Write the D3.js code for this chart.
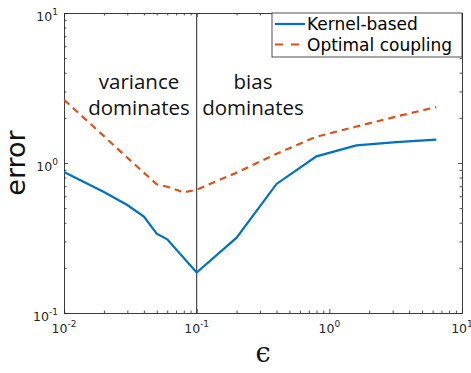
<!DOCTYPE html>
<html>
<head>
<meta charset="utf-8">
<script src="https://cdn.jsdelivr.net/npm/d3@7"></script>
<style>
  body { margin: 0; background: #fff; }
  svg { display: block; }
</style>
</head>
<body>
<svg id="chart" width="471" height="373"></svg>
<script>
// values
const epsilon = [0.01, 0.02, 0.03, 0.04, 0.05, 0.06, 0.1, 0.2, 0.4, 0.8, 1.6, 3.2, 6.4];
const kernelBased = [0.87, 0.64, 0.525, 0.44, 0.338, 0.31, 0.186, 0.318, 0.725, 1.107, 1.31, 1.376, 1.43];
const couplingEps = [0.01, 0.02, 0.03, 0.04, 0.05, 0.06, 0.08, 0.1, 0.2, 0.4, 0.8, 1.6, 3.2, 6.4];
const optimalCoupling = [2.64, 1.51, 1.085, 0.862, 0.722, 0.695, 0.637, 0.664, 0.862, 1.153, 1.497, 1.75, 2.04, 2.36];
const decadesX = [-2, -1, 0, 1];
const decadesY = [-1, 0, 1];
const legendLabels = ['Kernel-based', 'Optimal coupling'];

const margin = { left: 64, top: 13, right: 9, bottom: 60 };
const width = 471, height = 373;
const innerW = width - margin.left - margin.right;
const innerH = height - margin.top - margin.bottom;

const svg = d3.select('#chart');
const g = svg.append('g').attr('transform', `translate(${margin.left},${margin.top})`);

const x = d3.scaleLog().domain([1e-2, 1e1]).range([0, innerW]);
const y = d3.scaleLog().domain([1e-1, 1e1]).range([innerH, 0]);

const axisColor = '#262626';
const minorX = [];
for (let p = -2; p < 1; p++) for (let m = 1; m < 10; m++) minorX.push(m * Math.pow(10, p));
minorX.push(10);
const minorY = [];
for (let p = -1; p < 1; p++) for (let m = 1; m < 10; m++) minorY.push(m * Math.pow(10, p));
minorY.push(10);
const isMajor = v => Math.abs(Math.log10(v) - Math.round(Math.log10(v))) < 1e-9;

const drawAxis = (axis, transform) => {
  const a = g.append('g').attr('transform', transform).call(axis);
  a.select('.domain').attr('stroke', axisColor).attr('stroke-width', 0.9);
  a.selectAll('.tick line').attr('stroke', axisColor).attr('stroke-width', 0.8);
  a.selectAll('.tick text').remove();
  return a;
};

const tickLen = 4, minorLen = 2.5;
const axBottom = drawAxis(d3.axisBottom(x).tickValues(minorX).tickSizeInner(-tickLen).tickSizeOuter(0).tickFormat(''), `translate(0,${innerH})`);
const axTop = drawAxis(d3.axisTop(x).tickValues(minorX).tickSizeInner(-tickLen).tickSizeOuter(0).tickFormat(''), 'translate(0,0)');
const axLeft = drawAxis(d3.axisLeft(y).tickValues(minorY).tickSizeInner(-tickLen).tickSizeOuter(0).tickFormat(''), 'translate(0,0)');
const axRight = drawAxis(d3.axisRight(y).tickValues(minorY).tickSizeInner(-tickLen).tickSizeOuter(0).tickFormat(''), `translate(${innerW},0)`);

axBottom.selectAll('.tick line').attr('y2', d => isMajor(d) ? -tickLen : -minorLen);
axTop.selectAll('.tick line').attr('y2', d => isMajor(d) ? tickLen : minorLen);
axLeft.selectAll('.tick line').attr('x2', d => isMajor(d) ? tickLen : minorLen);
axRight.selectAll('.tick line').attr('x2', d => isMajor(d) ? -tickLen : -minorLen);

// tick labels with superscript exponents
const tickFont = '"DejaVu Sans", sans-serif';
const xLabels = g.append('g').selectAll('text')
  .data(decadesX)
  .enter().append('text')
  .attr('x', d => x(Math.pow(10, d)))
  .attr('y', innerH + 20)
  .attr('text-anchor', 'middle')
  .style('font-family', tickFont)
  .style('font-size', '12.5px')
  .style('fill', axisColor);
xLabels.append('tspan').text('10');
xLabels.append('tspan').attr('dy', -6).style('font-size', '9px').text(d => d);

const yLabels = g.append('g').selectAll('text')
  .data(decadesY)
  .enter().append('text')
  .attr('x', -6)
  .attr('y', d => y(Math.pow(10, d)) + 8)
  .attr('text-anchor', 'end')
  .style('font-family', tickFont)
  .style('font-size', '12.5px')
  .style('fill', axisColor);
yLabels.append('tspan').text('10');
yLabels.append('tspan').attr('dy', -6).style('font-size', '9px').text(d => d);

// vertical divider at epsilon = 0.1
g.append('line')
  .attr('x1', x(0.1)).attr('x2', x(0.1))
  .attr('y1', 0).attr('y2', innerH)
  .attr('stroke', '#3a3a3a')
  .attr('stroke-width', 1.1);

// curves
const clip = svg.append('defs').append('clipPath').attr('id', 'plot-clip')
  .append('rect').attr('width', innerW).attr('height', innerH);

const line = d3.line().x(d => x(d[0])).y(d => y(d[1]));

g.append('path')
  .datum(epsilon.map((e, i) => [e, kernelBased[i]]))
  .attr('clip-path', 'url(#plot-clip)')
  .attr('d', line)
  .attr('fill', 'none')
  .attr('stroke', '#0072BD')
  .attr('stroke-width', 2.2);

g.append('path')
  .datum(couplingEps.map((e, i) => [e, optimalCoupling[i]]))
  .attr('clip-path', 'url(#plot-clip)')
  .attr('d', line)
  .attr('fill', 'none')
  .attr('stroke', '#D95319')
  .attr('stroke-width', 2.2)
  .attr('stroke-dasharray', '7,5');

// annotations
const annoFont = '"Open Sans", sans-serif';
const annotate = (lines, cx) => {
  const t = g.append('text')
    .attr('text-anchor', 'middle')
    .style('font-family', annoFont)
    .style('font-size', '20.5px')
    .style('fill', '#111');
  lines.forEach((s, i) => {
    t.append('tspan').attr('x', cx).attr('y', 76 + i * 26).text(s);
  });
};
annotate(['variance', 'dominates'], 139 - margin.left);
annotate(['bias', 'dominates'], 253 - margin.left);

// legend
const legend = svg.append('g').attr('class', 'legend');
legend.append('rect')
  .attr('x', 272).attr('y', 13)
  .attr('width', 190).attr('height', 44)
  .attr('fill', '#fff')
  .attr('stroke', axisColor)
  .attr('stroke-width', 0.8);

const legendStyles = [
  { color: '#0072BD', dash: null },
  { color: '#D95319', dash: '8,8' }
];
legend.selectAll('line.sample')
  .data(legendLabels)
  .enter().append('line')
  .attr('class', 'sample')
  .attr('x1', 275).attr('x2', 305)
  .attr('y1', (d, i) => 24 + i * 20.5)
  .attr('y2', (d, i) => 24 + i * 20.5)
  .attr('stroke', (d, i) => legendStyles[i].color)
  .attr('stroke-width', 2.2)
  .attr('stroke-dasharray', (d, i) => legendStyles[i].dash);

legend.selectAll('text')
  .data(legendLabels)
  .enter().append('text')
  .text(d => d)
  .attr('x', 307)
  .attr('y', (d, i) => 30 + i * 20.5)
  .style('font-family', '"DejaVu Sans", sans-serif')
  .style('font-size', '17px')
  .style('fill', '#000');

// axis titles
svg.append('text')
  .attr('transform', `translate(25,${margin.top + innerH / 2}) rotate(-90)`)
  .attr('text-anchor', 'middle')
  .style('font-family', '"DejaVu Sans", sans-serif')
  .style('font-size', '27px')
  .style('fill', '#111')
  .text('error');

svg.append('text')
  .attr('x', margin.left + innerW / 2)
  .attr('y', 362)
  .attr('text-anchor', 'middle')
  .style('font-family', '"DejaVu Serif", serif')
  .style('font-size', '27px')
  .style('fill', '#111')
  .text('ϵ');
</script>
</body>
</html>
